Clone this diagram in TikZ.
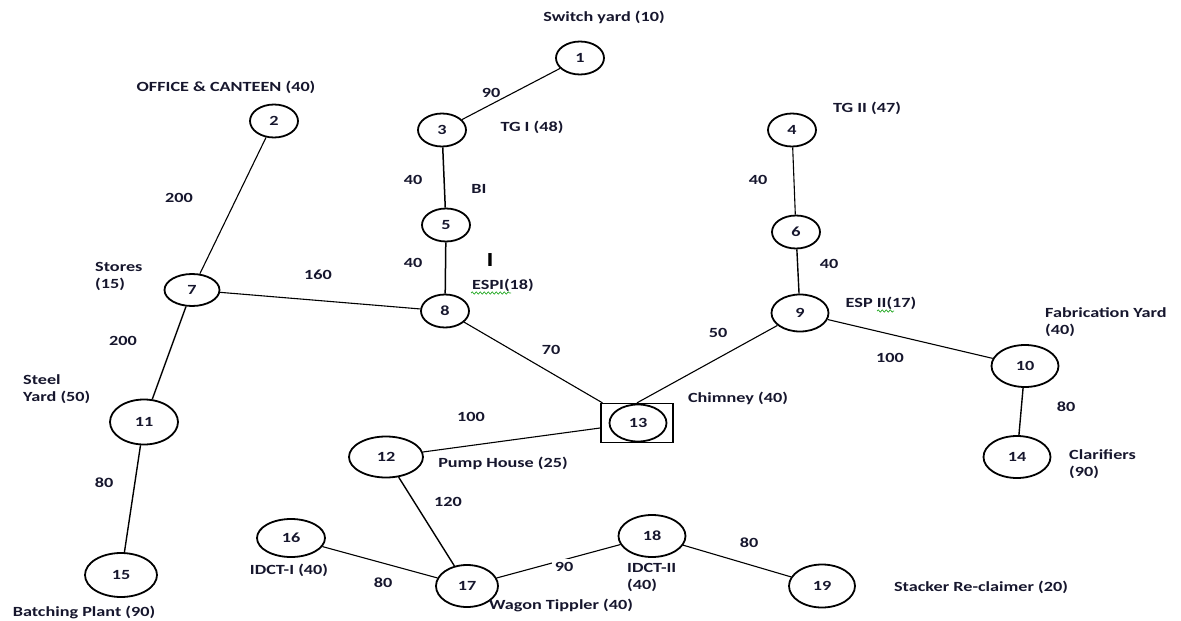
\documentclass[tikz,border=0pt]{standalone}
\usepackage{fontspec}
\setmainfont{Carlito}[FakeStretch=1.3]
\usetikzlibrary{shapes.geometric,decorations.pathmorphing}
\definecolor{ink}{RGB}{22,22,45}
\definecolor{wavy}{RGB}{40,170,40}
\begin{document}
\begin{tikzpicture}[x=1pt,y=-1pt,
  every node/.style={font=\bfseries\fontsize{14}{16}\selectfont, text=ink, inner sep=1pt},
  ell/.style 2 args={ellipse, draw=black, line width=1.8pt, inner sep=0pt, minimum width=#1, minimum height=#2},
  sm/.style={ell={48}{33}},
  md/.style={ell={57}{37}},
  lg/.style={ell={67}{42}},
  edge/.style={draw=black, line width=1.1pt},
  lbl/.style={anchor=center},
  multi/.style={anchor=west, align=left, font=\bfseries\fontsize{14}{17}\selectfont},
  spell/.style={draw=wavy, line width=0.7pt, decorate, decoration={snake, amplitude=1.1pt, segment length=4pt}}
]
\useasboundingbox (0,0) rectangle (1181,621);
% nodes
\node[sm] (n1) at (580,58) {1};
\node[sm] (n2) at (274,121) {2};
\node[sm] (n3) at (442,130) {3};
\node[sm] (n4) at (792,130) {4};
\node[sm] (n5) at (446,225) {5};
\node[sm] (n6) at (796,232) {6};
\node[ell={55}{32}] (n7) at (192,290) {7};
\node[sm] (n8) at (445,311) {8};
\node[md] (n9) at (800,313) {9};
\node[lg] (n10) at (1025,366) {10};
\node[ell={68}{45}] (n11) at (144,422) {11};
\node[ell={74}{41}] (n12) at (386,457) {12};
\node[draw=black, line width=1.3pt, minimum width=72, minimum height=39, inner sep=0pt] (b13) at (637,423) {};
\node[md] (n13) at (638,423) {13};
\node[lg] (n14) at (1017,457) {14};
\node[ell={72}{44}] (n15) at (121,575) {15};
\node[ell={68}{38}] (n16) at (291,538) {16};
\node[ell={62}{42}] (n17) at (467,586) {17};
\node[lg] (n18) at (652,536) {18};
\node[ell={66}{43}] (n19) at (822,586) {19};
% edges
\draw[edge] (n1) -- (n3);
\draw[edge] (n2) -- (n7);
\draw[edge, line width=1.5pt] (n3) -- (n5);
\draw[edge, line width=1.5pt] (n5) -- (n8);
\draw[edge] (n7) -- (n8);
\draw[edge, line width=1.4pt] (n7) -- (n11);
\draw[edge, line width=1.4pt] (n11) -- (n15);
\draw[edge] (n4) -- (n6);
\draw[edge, line width=1.4pt] (n6) -- (n9);
\draw[edge] (n8) -- (b13);
\draw[edge] (n12) -- (b13);
\draw[edge] (n9) -- (b13.north);
\draw[edge] (n9) -- (n10);
\draw[edge, line width=1.4pt] (n10) -- (n14);
\draw[edge, line width=1.4pt] (n12) -- (n17);
\draw[edge] (n16) -- (n17);
\draw[edge] (n17) -- (n18);
\draw[edge] (n18) -- (n19);
% edge weights
\node[lbl] (w13) at (491,93) {90};
\node[lbl] (w35) at (413,180) {40};
\node[lbl] (w58) at (413,263) {40};
\node[lbl] (w27) at (179,198) {200};
\node[lbl] (w78) at (318,275) {160};
\node[lbl] (w46) at (758,180) {40};
\node[lbl] (w69) at (829,264) {40};
\node[lbl] (w711) at (123,341) {200};
\node[lbl] (w1115) at (104,483) {80};
\node[lbl] (w813) at (551,350) {70};
\node[lbl] (w913) at (718,333) {50};
\node[lbl] (w910) at (890,358) {100};
\node[lbl] (w1014) at (1066,407) {80};
\node[lbl] (w1213) at (471,417) {100};
\node[lbl] (w1217) at (448,502) {120};
\node[lbl] (w1617) at (383,583) {80};
\node[lbl, fill=white, inner sep=3pt] (w1718) at (564,567) {90};
\node[lbl] (w1819) at (749,543) {80};
% names
\node[lbl] (t1) at (604,17) {Switch yard (10)};
\node[lbl] (t2) at (226,87) {OFFICE \& CANTEEN (40)};
\node[lbl] (t3) at (532,127) {TG I (48)};
\node[lbl] (tbi) at (479,189) {BI};
\node[lbl, font=\bfseries\fontsize{20}{20}\selectfont, text=black] (tbar) at (490,260) {I};
\node[lbl] (t8) at (503,285) {ESPI(18)};
\draw[spell] (471,293) -- (511,293);
\node[lbl] (t4) at (867,108) {TG II (47)};
\node[lbl] (t9) at (881,303) {ESP II(17)};
\draw[spell] (877,311) -- (894,311);
\node[multi] (t7) at (94,276) {Stores\\(15)};
\node[multi] (t11) at (22,389) {Steel\\Yard (50)};
\node[multi] (t10) at (1044,322) {Fabrication Yard\\(40)};
\node[lbl] (t13) at (738,398) {Chimney (40)};
\node[lbl] (t12) at (503,463) {Pump House (25)};
\node[multi] (t14) at (1068,464) {Clarifiers\\(90)};
\node[lbl] (t16) at (289,570) {IDCT-I (40)};
\node[multi] (t18) at (626,577) {IDCT-II\\(40)};
\node[lbl] (t15) at (84,612) {Batching Plant (90)};
\node[lbl] (t17) at (561,605) {Wagon Tippler (40)};
\node[lbl] (t19) at (981,587) {Stacker Re-claimer (20)};
\end{tikzpicture}
\end{document}
